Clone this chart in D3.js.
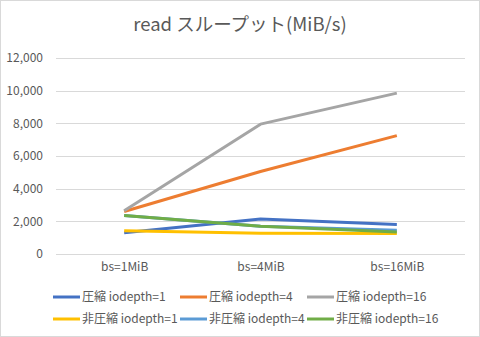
<!DOCTYPE html>
<html><head><meta charset="utf-8">
<script src="https://cdn.jsdelivr.net/npm/d3@7"></script>
<style>
html,body{margin:0;padding:0;background:#fff;}
svg{display:block;}
text{font-family:"Noto Sans CJK JP","Noto Sans",sans-serif;fill:#595959;}
</style></head>
<body>
<svg id="c" width="480" height="337"></svg>
<script>
const categories = ["bs=1MiB","bs=4MiB","bs=16MiB"];
const seriesNames = ["圧縮 iodepth=1","圧縮 iodepth=4","圧縮 iodepth=16","非圧縮 iodepth=1","非圧縮 iodepth=4","非圧縮 iodepth=16"];
const comp_iod1 = [1300, 2150, 1800];
const comp_iod4 = [2600, 5050, 7250];
const comp_iod16 = [2650, 7950, 9850];
const nocomp_iod1 = [1430, 1270, 1250];
const nocomp_iod4 = [2350, 1700, 1450];
const nocomp_iod16 = [2350, 1700, 1350];
const yTicks = [0,2000,4000,6000,8000,10000,12000];
const colors = ["#4472C4","#ED7D31","#A5A5A5","#FFC000","#5B9BD5","#70AD47"];
const seriesValues = [comp_iod1, comp_iod4, comp_iod16, nocomp_iod1, nocomp_iod4, nocomp_iod16];

const svg = d3.select("#c");
svg.append("rect").attr("x",0.5).attr("y",0.5).attr("width",479).attr("height",336)
  .attr("fill","#fff").attr("stroke","#D9D9D9");

const x = d3.scalePoint().domain(categories).range([56,465]).padding(0.5);
const y = d3.scaleLinear().domain([0,12000]).range([254,58]);

// gridlines
svg.append("g").selectAll("line").data(yTicks).join("line")
  .attr("x1",56).attr("x2",465).attr("y1",d=>Math.round(y(d))+0.5).attr("y2",d=>Math.round(y(d))+0.5)
  .attr("stroke","#D9D9D9").attr("stroke-width",1);

// y axis labels
const yAxis = d3.axisLeft(y).tickValues(yTicks).tickSize(0).tickPadding(0).tickFormat(d3.format(","));
const yg = svg.append("g").attr("transform","translate(43,0)").call(yAxis);
yg.select(".domain").remove();
yg.selectAll("text").style("font-size","12px").attr("fill","#595959").style("font-family",null);

// x axis labels
const xAxis = d3.axisBottom(x).tickSize(0).tickPadding(0);
const xg = svg.append("g").attr("transform","translate(0,262)").call(xAxis);
xg.select(".domain").remove();
xg.selectAll("text").style("font-size","12px").attr("fill","#595959").style("font-family",null);

// lines
const line = d3.line().x((d,i)=>x(categories[i])).y(d=>y(d));
seriesValues.forEach((vals,i)=>{
  svg.append("path").datum(vals).attr("d",line).attr("fill","none")
    .attr("stroke",colors[i]).attr("stroke-width",3).attr("stroke-linejoin","round").attr("stroke-linecap","butt");
});

// title
svg.append("text").attr("x",240).attr("y",31).attr("text-anchor","middle")
  .style("font-size","18.5px").text("read スループット(MiB/s)");

// legend
const legX = [53,180,307];
const legY = [297,319];
seriesNames.forEach((name,i)=>{
  const cx = legX[i%3], cy = legY[Math.floor(i/3)];
  const g = svg.append("g");
  g.append("line").attr("x1",cx).attr("x2",cx+27).attr("y1",cy).attr("y2",cy)
    .attr("stroke",colors[i]).attr("stroke-width",3).attr("stroke-linecap","butt");
  g.append("text").attr("x",cx+29).attr("y",cy).attr("dy","0.35em").style("font-size","12px").text(name);
});
</script>
</body></html>
